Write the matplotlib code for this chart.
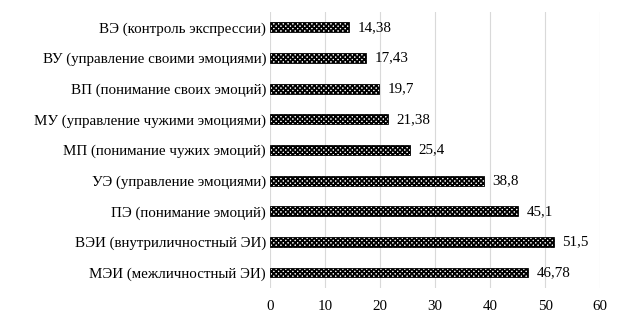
import matplotlib.pyplot as plt

plt.rcParams['font.family'] = ['Liberation Serif', 'DejaVu Serif']
plt.rcParams['hatch.linewidth'] = 1.3

# categories top to bottom as shown in the picture
labels = [
    "ВЭ (контроль экспрессии)",
    "ВУ (управление своими эмоциями)",
    "ВП (понимание своих эмоций)",
    "МУ (управление чужими эмоциями)",
    "МП (понимание чужих эмоций)",
    "УЭ (управление эмоциями)",
    "ПЭ (понимание эмоций)",
    "ВЭИ (внутриличностный ЭИ)",
    "МЭИ (межличностный ЭИ)",
]
values = [14.38, 17.43, 19.7, 21.38, 25.4, 38.8, 45.1, 51.5, 46.78]
value_text = ["14,38", "17,43", "19,7", "21,38", "25,4", "38,8", "45,1", "51,5", "46,78"]

fig = plt.figure(figsize=(6.24, 3.26), dpi=100)
ax = fig.add_axes([0.433, 0.117, 0.529, 0.846])

pos = list(range(len(labels)))[::-1]
# dense black cross-hatch on white gives the dark dotted texture
ax.barh(pos, values, height=0.32, color='white', edgecolor='black',
        linewidth=0.6, hatch='xxxxxxx')

for y, v, t in zip(pos, values, value_text):
    ax.text(v + 1.6, y, t, va='center', ha='left', fontsize=10.8)

ax.set_xlim(0, 60)
ax.set_ylim(-0.5, len(labels) - 0.5)
ax.set_xticks(range(0, 61, 10))
ax.set_yticks(pos)
ax.set_yticklabels(labels)
ax.tick_params(axis='both', length=0, labelsize=10.8)
ax.tick_params(axis='x', pad=9)
ax.tick_params(axis='y', pad=3)
ax.grid(axis='x', color='#d9d9d9', linewidth=0.8)
ax.set_axisbelow(True)
for s in ax.spines.values():
    s.set_visible(False)

fig.savefig('out.png', dpi=100)
